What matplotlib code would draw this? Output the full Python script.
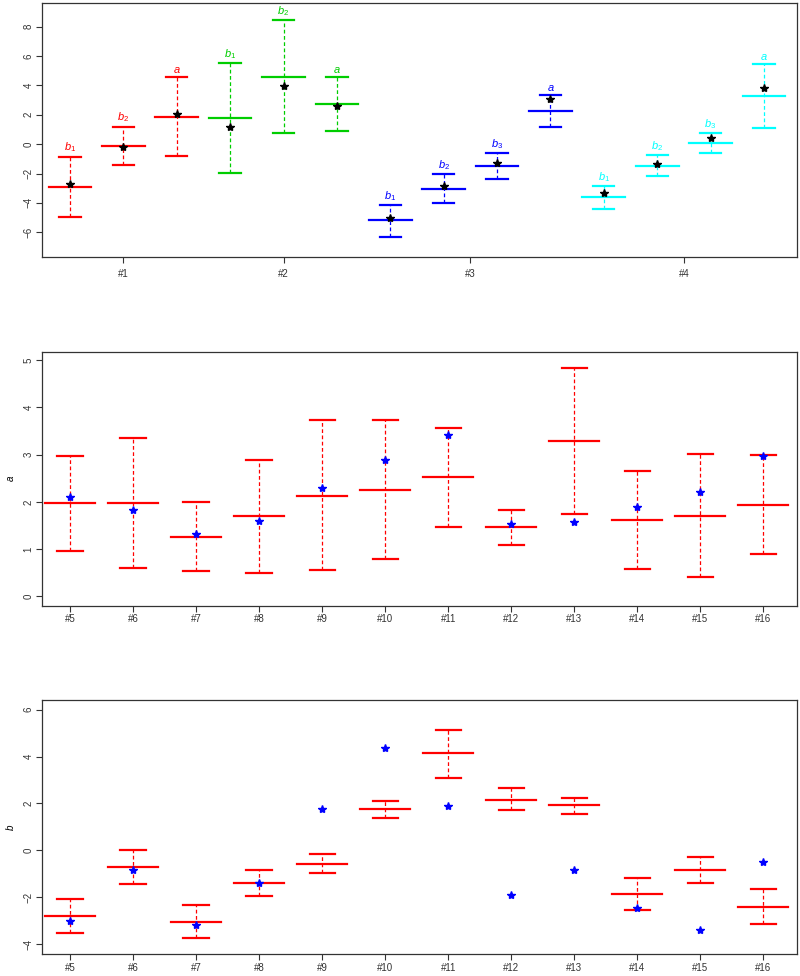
import numpy as np
import matplotlib
matplotlib.use("Agg")
import matplotlib.pyplot as plt

plt.rcParams["font.family"] = ["Liberation Sans", "DejaVu Sans"]
plt.rcParams["mathtext.fontset"] = "custom"
plt.rcParams["mathtext.it"] = "Liberation Sans:italic"
plt.rcParams["mathtext.rm"] = "Liberation Sans"

# =============================================================================
# Data: top panel (4 groups of parameters)
# =============================================================================

top_groups = ["#1", "#2", "#3", "#4"]
top_colors = ["#FF0000", "#00CD00", "#0000FF", "#00FFFF"]
top_labels = [
    ["b_1", "b_2", "a"],
    ["b_1", "b_2", "a"],
    ["b_1", "b_2", "b_3", "a"],
    ["b_1", "b_2", "b_3", "a"],
]
top_upper = [
    [-0.84, 1.20, 4.56],
    [5.51, 8.46, 4.56],
    [-4.13, -2.02, -0.59, 3.33],
    [-2.86, -0.75, 0.75, 5.44],
]
top_center = [
    [-2.90, -0.10, 1.88],
    [1.79, 4.60, 2.72],
    [-5.17, -3.02, -1.46, 2.29],
    [-3.63, -1.48, 0.07, 3.27],
]
top_lower = [
    [-4.95, -1.39, -0.80],
    [-1.97, 0.79, 0.90],
    [-6.30, -4.01, -2.36, 1.18],
    [-4.38, -2.20, -0.59, 1.13],
]
top_true = [
    [-2.72, -0.20, 2.08],
    [1.16, 3.99, 2.60],
    [-5.06, -2.88, -1.29, 3.10],
    [-3.33, -1.32, 0.41, 3.83],
]

# =============================================================================
# Data: items #5 - #16, parameter a and b
# =============================================================================

items = ["#5", "#6", "#7", "#8", "#9", "#10",
         "#11", "#12", "#13", "#14", "#15", "#16"]

a_upper = [2.97, 3.35, 2.00, 2.89, 3.73, 3.73, 3.57, 1.83, 4.83, 2.66, 3.01, 2.99]
a_center = [1.97, 1.97, 1.26, 1.70, 2.13, 2.25, 2.53, 1.46, 3.28, 1.61, 1.70, 1.94]
a_lower = [0.96, 0.59, 0.53, 0.49, 0.55, 0.78, 1.46, 1.08, 1.75, 0.58, 0.41, 0.89]
a_true = [2.10, 1.83, 1.31, 1.59, 2.30, 2.89, 3.41, 1.52, 1.58, 1.88, 2.20, 2.97]

b_upper = [-2.09, 0.01, -2.32, -0.83, -0.16, 2.12, 5.13, 2.66, 2.24, -1.17, -0.27, -1.65]
b_center = [-2.80, -0.71, -3.04, -1.38, -0.57, 1.75, 4.14, 2.17, 1.92, -1.86, -0.83, -2.42]
b_lower = [-3.50, -1.44, -3.73, -1.96, -0.98, 1.39, 3.10, 1.71, 1.56, -2.52, -1.38, -3.14]
b_true = [-2.99, -0.83, -3.16, -1.41, 1.75, 4.36, 1.89, -1.92, -0.84, -2.45, -3.39, -0.50]


CENTER_HW = 0.4
CAP_HW = 0.2
TICK_FS = 7
MS = 6


def draw_interval(ax, x, lo, mid, hi, color):
    ax.plot([x, x], [lo, hi], color=color, lw=0.9, ls=(0, (3, 2)), zorder=1)
    ax.plot([x - CAP_HW, x + CAP_HW], [hi, hi], color=color, lw=1.6, zorder=2)
    ax.plot([x - CAP_HW, x + CAP_HW], [lo, lo], color=color, lw=1.6, zorder=2)
    ax.plot([x - CENTER_HW, x + CENTER_HW], [mid, mid], color=color, lw=1.6, zorder=2)


def style_axes(ax, xpad):
    for sp in ax.spines.values():
        sp.set_color("#333333")
        sp.set_linewidth(0.9)
    ax.tick_params(axis="both", labelsize=TICK_FS, length=4, width=0.8,
                   colors="#333333")
    ax.tick_params(axis="y", pad=2)
    ax.tick_params(axis="x", pad=xpad)
    for lab in ax.get_yticklabels():
        lab.set_rotation(90)
        lab.set_va("center")


fig = plt.figure(figsize=(8, 9.76), dpi=100)

# =============================================================================
# Top panel
# =============================================================================

ax1 = fig.add_axes([0.0521, 0.737, 0.9442, 0.2602])
pos = 1
tick_pos = []
for g in range(len(top_groups)):
    start = pos
    for k in range(len(top_labels[g])):
        c = top_colors[g]
        draw_interval(ax1, pos, top_lower[g][k], top_center[g][k], top_upper[g][k], c)
        ax1.plot(pos, top_true[g][k], marker="*", color="black", ms=MS, zorder=3)
        ax1.annotate("$" + top_labels[g][k] + "$", (pos, top_upper[g][k]),
                     xytext=(0, 1.5), textcoords="offset points",
                     ha="center", va="bottom", color=c, fontsize=8)
        pos += 1
    tick_pos.append((start + pos - 1) / 2)
ax1.set_xlim(0.47, 14.62)
ax1.set_ylim(-7.66, 9.63)
ax1.set_xticks(tick_pos)
ax1.set_xticklabels(top_groups)
ax1.set_yticks([-6, -4, -2, 0, 2, 4, 6, 8])
style_axes(ax1, 5)

# =============================================================================
# Middle panel: a
# =============================================================================

xs = np.arange(1, len(items) + 1)

ax2 = fig.add_axes([0.0521, 0.3794, 0.9445, 0.2603])
for i, x in enumerate(xs):
    draw_interval(ax2, x, a_lower[i], a_center[i], a_upper[i], "#FF0000")
    ax2.plot(x, a_true[i], marker="*", color="#0000FF", ms=MS, zorder=3)
ax2.set_xlim(0.55, 12.54)
ax2.set_ylim(-0.2, 5.18)
ax2.set_xticks(xs)
ax2.set_xticklabels(items)
ax2.set_yticks([0, 1, 2, 3, 4, 5])
ax2.set_ylabel("$a$", fontsize=7, labelpad=5)
style_axes(ax2, 2)

# =============================================================================
# Bottom panel: b
# =============================================================================

ax3 = fig.add_axes([0.0521, 0.0222, 0.9445, 0.2603])
for i, x in enumerate(xs):
    draw_interval(ax3, x, b_lower[i], b_center[i], b_upper[i], "#FF0000")
    ax3.plot(x, b_true[i], marker="*", color="#0000FF", ms=MS, zorder=3)
ax3.set_xlim(0.55, 12.54)
ax3.set_ylim(-4.43, 6.4)
ax3.set_xticks(xs)
ax3.set_xticklabels(items)
ax3.set_yticks([-4, -2, 0, 2, 4, 6])
ax3.set_ylabel("$b$", fontsize=7, labelpad=5)
style_axes(ax3, 2.5)

fig.savefig("out.png", dpi=100)
